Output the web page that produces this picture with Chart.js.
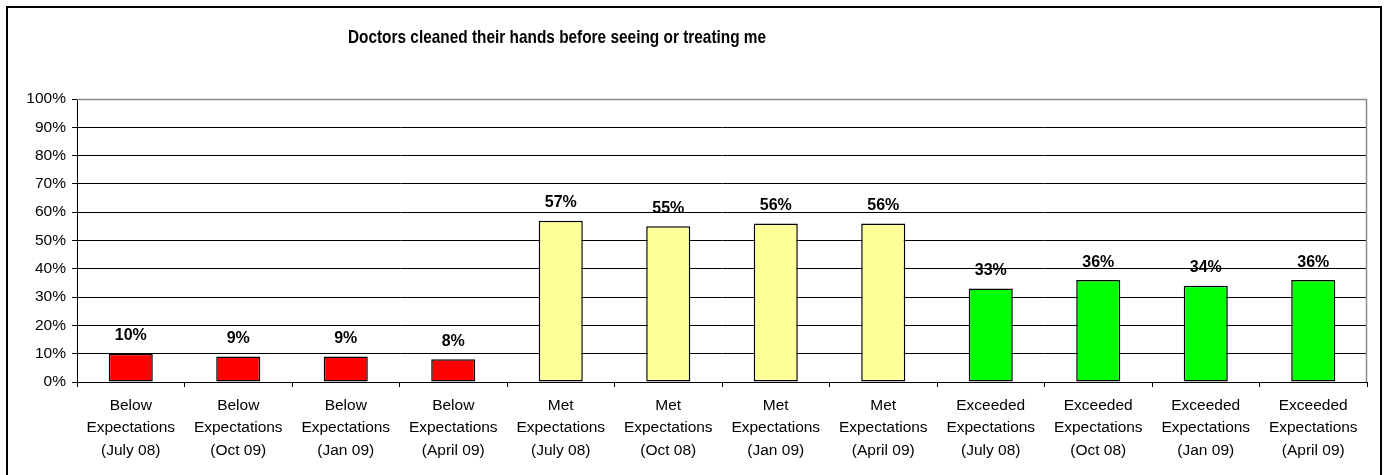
<!DOCTYPE html>
<html>
<head>
<meta charset="utf-8">
<script src="https://cdn.jsdelivr.net/npm/chart.js@4"></script>
<style>
  html, body { margin: 0; padding: 0; background: #ffffff; }
  #wrap { width: 1386px; height: 475px; }
</style>
</head>
<body>
<div id="wrap"><canvas id="c" width="1386" height="475"></canvas></div>
<script>
// Survey responses, grouped by rating then by survey period
const ratings = ['Below', 'Below', 'Below', 'Below', 'Met', 'Met', 'Met', 'Met',
                 'Exceeded', 'Exceeded', 'Exceeded', 'Exceeded'];
const periods = ['(July 08)', '(Oct 09)', '(Jan 09)', '(April 09)',
                 '(July 08)', '(Oct 08)', '(Jan 09)', '(April 09)',
                 '(July 08)', '(Oct 08)', '(Jan 09)', '(April 09)'];
const percentages = [10, 9, 9, 8, 57, 55, 56, 56, 33, 36, 34, 36];
const yTicks = [0, 10, 20, 30, 40, 50, 60, 70, 80, 90, 100];
const titleText = 'Doctors cleaned their hands before seeing or treating me';

const ratingColours = { Below: '#FF0000', Met: '#FFFF99', Exceeded: '#00FF00' };
const categories = ratings.map((r, i) => [r, 'Expectations', periods[i]]);
const FONT = '"Liberation Sans", Arial, Helvetica, sans-serif';

// Outer frame and heading
const framePlugin = {
  id: 'frame',
  beforeDraw(chart) {
    const ctx = chart.ctx;
    ctx.save();
    ctx.fillStyle = '#ffffff';
    ctx.fillRect(0, 0, chart.width, chart.height);
    ctx.strokeStyle = '#000000';
    ctx.lineWidth = 2;
    ctx.beginPath();
    ctx.moveTo(7, chart.height + 5);
    ctx.lineTo(7, 7);
    ctx.lineTo(1381, 7);
    ctx.lineTo(1381, chart.height + 5);
    ctx.stroke();
    // condensed bold heading
    ctx.fillStyle = '#000000';
    ctx.font = 'bold 19px ' + FONT;
    ctx.textAlign = 'center';
    ctx.textBaseline = 'middle';
    ctx.translate(557, 38);
    ctx.scale(0.81, 1);
    ctx.fillText(titleText, 0, 0);
    ctx.restore();
  },
  afterDraw(chart) {
    // grey plot-area edge along the top and right
    const a = chart.chartArea;
    const ctx = chart.ctx;
    ctx.save();
    ctx.strokeStyle = '#8c8c8c';
    ctx.lineWidth = 1.5;
    ctx.beginPath();
    ctx.moveTo(a.left, a.top + 0.5);
    ctx.lineTo(a.right - 0.5, a.top + 0.5);
    ctx.lineTo(a.right - 0.5, a.bottom);
    ctx.stroke();
    ctx.restore();
  }
};

// Percentage labels above each bar
const valueLabels = {
  id: 'valueLabels',
  afterDatasetsDraw(chart) {
    const ctx = chart.ctx;
    const meta = chart.getDatasetMeta(0);
    ctx.save();
    ctx.fillStyle = '#000000';
    ctx.font = 'bold 16px ' + FONT;
    ctx.textAlign = 'center';
    ctx.textBaseline = 'middle';
    meta.data.forEach((bar, i) => {
      ctx.fillText(percentages[i] + '%', bar.x, bar.y - 18);
    });
    ctx.restore();
  }
};

new Chart(document.getElementById('c'), {
  type: 'bar',
  data: {
    labels: categories,
    datasets: [{
      data: percentages,
      backgroundColor: ratings.map(r => ratingColours[r]),
      borderColor: '#000000',
      borderWidth: 1.5,
      borderSkipped: false,
      barPercentage: 0.41,
      categoryPercentage: 1.0
    }]
  },
  options: {
    responsive: false,
    animation: false,
    layout: { padding: { left: 0, top: 99, right: 19, bottom: 0 } },
    plugins: {
      legend: { display: false },
      title: { display: false },
      tooltip: { enabled: false }
    },
    scales: {
      x: {
        offset: true,
        grid: {
          offset: true,
          drawOnChartArea: false,
          drawTicks: true,
          tickLength: 5,
          color: '#000000',
          lineWidth: 1
        },
        border: { display: true, color: '#000000', width: 1 },
        ticks: {
          color: '#000000',
          padding: 7,
          maxRotation: 0,
          autoSkip: false,
          font: { family: FONT, size: 15.5, lineHeight: 1.47 }
        },
        afterFit(scale) { scale.height = 93; }
      },
      y: {
        min: 0,
        max: 100,
        afterBuildTicks(scale) { scale.ticks = yTicks.map(v => ({ value: v })); },
        grid: {
          color: ctx => (ctx.tick && ctx.tick.value === 100) ? '#8c8c8c' : '#000000',
          lineWidth: 1,
          drawTicks: true,
          tickLength: 5,
          tickColor: '#000000'
        },
        border: { display: true, color: '#000000', width: 1 },
        ticks: {
          color: '#000000',
          padding: 6,
          callback: v => v + '%',
          font: { family: FONT, size: 15.5 }
        },
        afterFit(scale) { scale.width = 77; }
      }
    }
  },
  plugins: [framePlugin, valueLabels]
});
</script>
</body>
</html>
